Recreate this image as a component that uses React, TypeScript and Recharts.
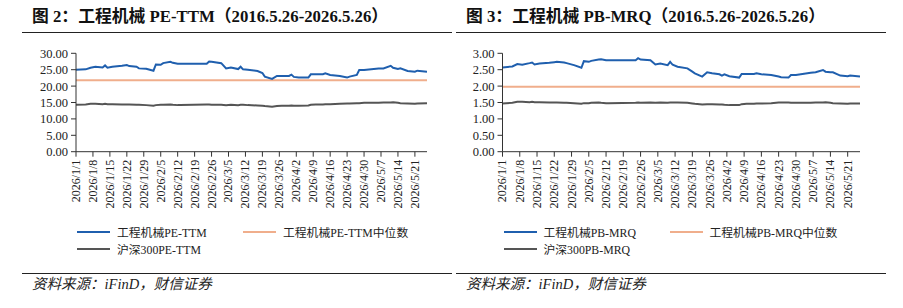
import { LineChart, Line, XAxis, YAxis } from 'recharts';

const DATES = [
  '2026/1/1', '2026/1/5', '2026/1/7', '2026/1/9', '2026/1/12', '2026/1/13', '2026/1/14', '2026/1/16', '2026/1/20', '2026/1/22',
  '2026/1/23', '2026/1/26', '2026/1/27', '2026/1/30', '2026/2/2', '2026/2/3', '2026/2/5', '2026/2/6', '2026/2/9', '2026/2/10',
  '2026/2/12', '2026/2/13', '2026/2/24', '2026/2/25', '2026/2/26', '2026/3/2', '2026/3/4', '2026/3/6', '2026/3/9', '2026/3/10',
  '2026/3/11', '2026/3/13', '2026/3/17', '2026/3/19', '2026/3/20', '2026/3/23', '2026/3/25', '2026/3/27', '2026/3/30', '2026/3/31',
  '2026/4/1', '2026/4/3', '2026/4/7', '2026/4/8', '2026/4/10', '2026/4/13', '2026/4/14', '2026/4/16', '2026/4/20', '2026/4/23',
  '2026/4/24', '2026/4/27', '2026/4/28', '2026/4/30', '2026/5/6', '2026/5/8', '2026/5/11', '2026/5/12', '2026/5/14', '2026/5/15',
  '2026/5/18', '2026/5/21', '2026/5/22', '2026/5/26',
];

const PE_TTM = [
  25.0, 25.1, 25.6, 25.9, 25.7, 26.3, 25.6, 25.9, 26.2, 26.4,
  26.1, 25.9, 25.4, 25.3, 24.7, 26.6, 26.5, 27.0, 27.4, 27.1,
  26.8, 26.8, 26.8, 27.5, 27.4, 27.0, 25.4, 25.7, 25.2, 25.9,
  25.1, 25.0, 24.6, 24.0, 22.9, 22.2, 23.1, 23.1, 23.1, 23.5,
  22.8, 22.6, 22.6, 23.6, 23.6, 23.6, 23.9, 23.4, 23.1, 22.6,
  22.9, 23.4, 24.9, 24.9, 25.4, 25.4, 26.2, 25.6, 25.2, 25.4,
  24.6, 24.4, 24.7, 24.4,
];

const HS300_PE = [
  14.3, 14.4, 14.6, 14.6, 14.5, 14.6, 14.5, 14.5, 14.4, 14.4,
  14.4, 14.3, 14.3, 14.2, 14.0, 14.2, 14.3, 14.3, 14.4, 14.3,
  14.2, 14.2, 14.4, 14.4, 14.3, 14.3, 14.2, 14.3, 14.2, 14.3,
  14.3, 14.2, 14.1, 14.0, 13.9, 13.7, 13.9, 14.0, 14.0, 14.1,
  14.0, 14.0, 14.1, 14.3, 14.4, 14.4, 14.5, 14.5, 14.6, 14.7,
  14.7, 14.8, 14.8, 14.9, 14.9, 15.0, 15.0, 15.1, 14.9, 14.8,
  14.7, 14.6, 14.7, 14.8,
];

const PE_MEDIAN = 21.8;

const PB_MRQ = [
  2.57, 2.60, 2.67, 2.65, 2.70, 2.72, 2.66, 2.69, 2.71, 2.73,
  2.74, 2.72, 2.70, 2.64, 2.56, 2.76, 2.74, 2.77, 2.81, 2.82,
  2.79, 2.79, 2.79, 2.85, 2.81, 2.79, 2.66, 2.69, 2.64, 2.74,
  2.65, 2.59, 2.54, 2.44, 2.39, 2.29, 2.42, 2.39, 2.36, 2.32,
  2.36, 2.30, 2.26, 2.37, 2.37, 2.37, 2.39, 2.36, 2.34, 2.29,
  2.27, 2.26, 2.34, 2.34, 2.41, 2.42, 2.49, 2.44, 2.42, 2.42,
  2.32, 2.30, 2.32, 2.29,
];

const HS300_PB = [
  1.47, 1.49, 1.52, 1.52, 1.51, 1.52, 1.51, 1.51, 1.50, 1.50,
  1.50, 1.49, 1.49, 1.48, 1.46, 1.48, 1.48, 1.49, 1.50, 1.49,
  1.48, 1.48, 1.49, 1.50, 1.49, 1.50, 1.49, 1.50, 1.49, 1.50,
  1.50, 1.50, 1.49, 1.47, 1.46, 1.44, 1.45, 1.45, 1.44, 1.44,
  1.43, 1.42, 1.42, 1.45, 1.46, 1.46, 1.47, 1.47, 1.48, 1.50,
  1.50, 1.50, 1.49, 1.49, 1.49, 1.50, 1.50, 1.51, 1.49, 1.48,
  1.47, 1.46, 1.47, 1.47,
];

const PB_MEDIAN = 1.98;

const TICK_LABELS = [
  '2026/1/1', '2026/1/8', '2026/1/15', '2026/1/22', '2026/1/29', '2026/2/5', '2026/2/12',
  '2026/2/19', '2026/2/26', '2026/3/5', '2026/3/12', '2026/3/19', '2026/3/26', '2026/4/2',
  '2026/4/9', '2026/4/16', '2026/4/23', '2026/4/30', '2026/5/7', '2026/5/14', '2026/5/21',
];

const PE_TICKS = [0, 5, 10, 15, 20, 25, 30];
const PB_TICKS = [0, 0.5, 1, 1.5, 2, 2.5, 3];

const SERIF = '"Liberation Serif", "Times New Roman", "Noto Sans CJK SC", serif';
const BLUE = '#1f5fae';
const ORANGE = '#f0ae8c';
const GRAY = '#555555';

const dayOf = (s: string) => {
  const [y, m, d] = s.split('/').map(Number);
  return Math.round((Date.UTC(y, m - 1, d) - Date.UTC(2026, 0, 1)) / 86400000);
};

const tickDays = TICK_LABELS.map(dayOf);
const labelByDay: Record<number, string> = {};
TICK_LABELS.forEach((t) => { labelByDay[dayOf(t)] = t; });

const peData = DATES.map((d, i) => ({ day: dayOf(d), main: PE_TTM[i], median: PE_MEDIAN, hs: HS300_PE[i] }));
const pbData = DATES.map((d, i) => ({ day: dayOf(d), main: PB_MRQ[i], median: PB_MEDIAN, hs: HS300_PB[i] }));

function DateTick(props: any) {
  const { x, y, payload } = props;
  const ty = y + 1;
  return (
    <text
      x={x}
      y={ty}
      transform={`rotate(-90 ${x} ${ty})`}
      textAnchor="end"
      dominantBaseline="central"
      fontSize={12}
      fontFamily={SERIF}
      fill="#222"
    >
      {labelByDay[payload.value]}
    </text>
  );
}

interface PanelProps {
  left: number;
  title: string;
  data: any[];
  yTicks: number[];
  axisOffset: number;
  plotRight: number;
  names: string[];
}

function Panel({ left, title, data, yTicks, axisOffset, plotRight, names }: PanelProps) {
  const chartW = 450;
  const legendItem = (x: number, y: number, color: string, label: string) => (
    <div style={{ position: 'absolute', left: x, top: y - 9, height: 18, display: 'flex', alignItems: 'center', whiteSpace: 'nowrap' }}>
      <div style={{ width: 33, height: 2, background: color, marginRight: 7 }} />
      <span style={{ fontSize: 11.8, fontFamily: SERIF, color: '#222' }}>{label}</span>
    </div>
  );
  return (
    <div style={{ position: 'absolute', left, top: 0, width: 450, height: 308 }}>
      <div style={{ position: 'absolute', left: 10, top: 6, fontSize: 16.8, fontWeight: 'bold', fontFamily: SERIF, color: '#111', whiteSpace: 'nowrap', lineHeight: '22px' }}>
        {title}
      </div>
      <div style={{ position: 'absolute', left: 0, top: 31.5, width: 430, height: 1.3, background: '#222' }} />
      <div style={{ position: 'absolute', left: 0, top: 40 }}>
        <LineChart width={chartW} height={180} data={data} margin={{ top: 13.3, right: chartW - plotRight, bottom: 8.3, left: 0 }}>
          <XAxis
            dataKey="day"
            type="number"
            domain={[0, 145]}
            ticks={tickDays}
            tick={<DateTick />}
            interval={0}
            height={60}
            tickSize={5}
            stroke="#333"
            allowDataOverflow
          />
          <YAxis
            type="number"
            domain={[yTicks[0], yTicks[yTicks.length - 1]]}
            ticks={yTicks}
            interval={0}
            width={axisOffset}
            tickSize={5}
            tickMargin={3}
            stroke="#333"
            tickFormatter={(v: number) => v.toFixed(2)}
            tick={{ fontSize: 12.5, fontFamily: SERIF, fill: '#222' }}
          />
          <Line dataKey="median" stroke={ORANGE} strokeWidth={2} dot={false} isAnimationActive={false} />
          <Line dataKey="hs" stroke={GRAY} strokeWidth={2} dot={false} isAnimationActive={false} />
          <Line dataKey="main" stroke={BLUE} strokeWidth={2} dot={false} isAnimationActive={false} />
        </LineChart>
      </div>
      {legendItem(axisOffset + 1, 231.5, BLUE, names[0])}
      {legendItem(axisOffset + 167, 231.5, ORANGE, names[1])}
      {legendItem(axisOffset + 1, 249, GRAY, names[2])}
      <div style={{ position: 'absolute', left: 0, top: 272.5, width: 430, height: 1.3, background: '#222' }} />
      <div style={{ position: 'absolute', left: 10, top: 274, fontSize: 14.5, fontStyle: 'italic', fontFamily: SERIF, color: '#222', whiteSpace: 'nowrap', lineHeight: '20px' }}>
        资料来源：iFinD，财信证券
      </div>
    </div>
  );
}

export default function App() {
  return (
    <div style={{ position: 'absolute', left: 0, top: 0, width: 903, height: 308, background: '#fff', overflow: 'hidden' }}>
      <Panel
        left={22}
        title="图 2：工程机械 PE-TTM（2016.5.26-2026.5.26）"
        data={peData}
        yTicks={PE_TICKS}
        axisOffset={54}
        plotRight={405}
        names={['工程机械PE-TTM', '工程机械PE-TTM中位数', '沪深300PE-TTM']}
      />
      <Panel
        left={456}
        title="图 3：工程机械 PB-MRQ（2016.5.26-2026.5.26）"
        data={pbData}
        yTicks={PB_TICKS}
        axisOffset={46.5}
        plotRight={404}
        names={['工程机械PB-MRQ', '工程机械PB-MRQ中位数', '沪深300PB-MRQ']}
      />
    </div>
  );
}
